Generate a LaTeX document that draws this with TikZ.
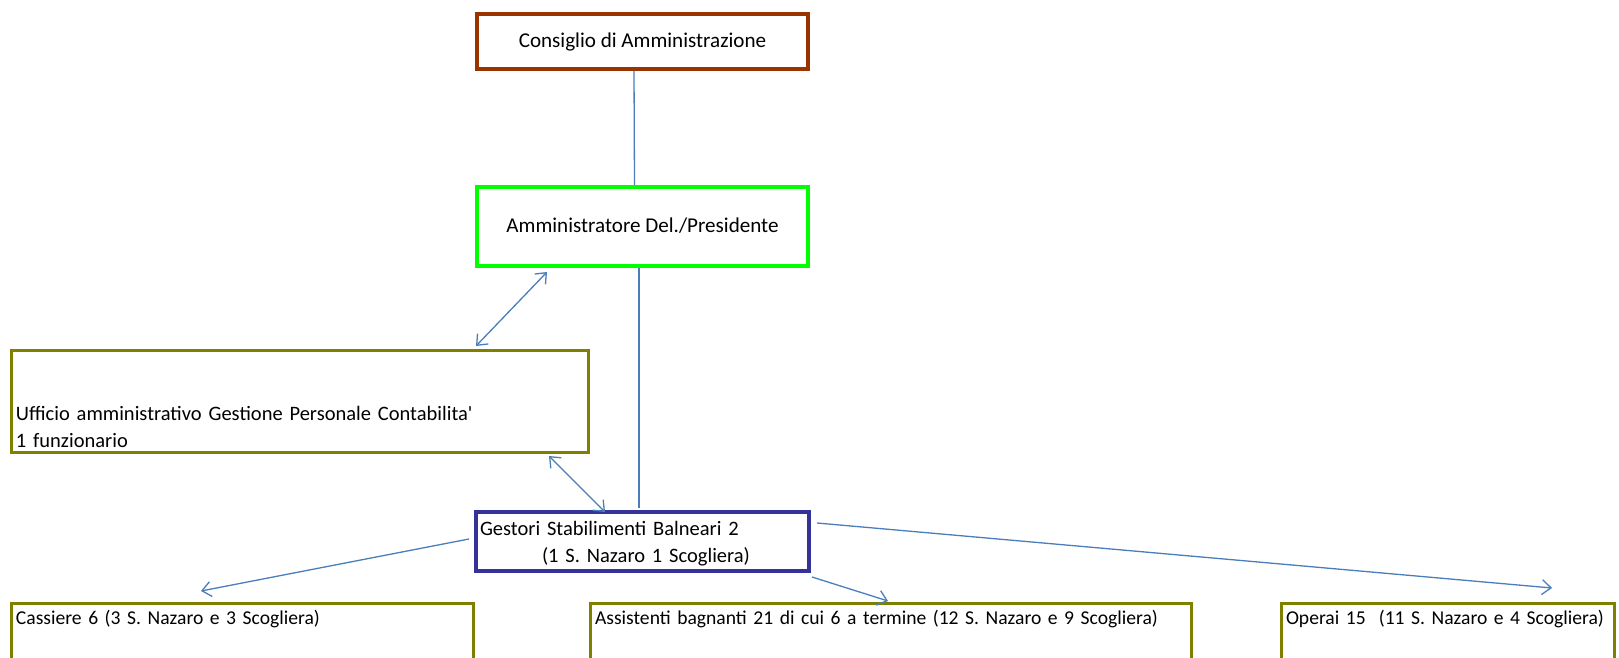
\documentclass[tikz,border=0pt]{standalone}
\usepackage{fontspec}
\setmainfont{Carlito}
\usetikzlibrary{arrows.meta}
\definecolor{cdabrown}{HTML}{993300}
\definecolor{ammgreen}{HTML}{00FF00}
\definecolor{gestblue}{HTML}{333399}
\definecolor{boxolive}{HTML}{808000}
\definecolor{linkblue}{HTML}{4A7EBB}
\begin{document}
\begin{tikzpicture}[x=1pt,y=1pt,>={Straight Barb[length=9pt,width=15pt]},
    box/.style={draw,rectangle,inner sep=0pt,text height=16pt,text depth=3pt,font=\fontsize{21.1}{27.5}\selectfont},
    leftbox/.style={box,align=left,inner xsep=4.5pt,inner ysep=0pt,font=\fontsize{20.5}{27.5}\selectfont},
    lowbox/.style={leftbox,draw=boxolive,line width=3pt,text height=21pt,text depth=59pt,font=\fontsize{19.6}{27.5}\selectfont},
    link/.style={draw=linkblue,line width=1.3pt}]
  \useasboundingbox (0,0) rectangle (1619,657);

  \node[box,draw=cdabrown,line width=4pt,minimum width=331pt,minimum height=55pt] (cda)
    at (642.5,615.5) {Consiglio di Amministrazione};
  \node[box,draw=ammgreen,line width=4pt,minimum width=331pt,minimum height=79pt] (amm)
    at (642.5,430.5) {Amministratore Del./Presidente};
  \node[leftbox,draw=boxolive,line width=3pt,text width=568pt,text height=69.5pt,text depth=32.5pt] (uff)
    at (300,255.5) {Ufficio amministrativo Gestione Personale Contabilita\textquotesingle\\1 funzionario};
  \node[leftbox,draw=gestblue,line width=4pt,inner xsep=4pt,text width=325pt,text height=23pt,text depth=36pt] (gest)
    at (642.5,115.5) {Gestori Stabilimenti Balneari 2\\\hspace*{62pt}(1 S. Nazaro 1 Scogliera)};

  \node[lowbox,text width=453pt] (cass) at (242.5,13.5) {Cassiere 6 (3 S. Nazaro e 3 Scogliera)};
  \node[lowbox,text width=592pt] (ass) at (891,13.5) {Assistenti bagnanti 21 di cui 6 a termine (12 S. Nazaro e 9 Scogliera)};
  \node[lowbox,text width=324pt] (oper) at (1448,13.5) {Operai 15~~(11 S. Nazaro e 4 Scogliera)};

  \draw[link] ([xshift=-8.5pt]cda.south) -- ([xshift=-8pt]amm.north);
  \draw[link] ([xshift=-3.5pt]amm.south) -- ([xshift=-3.5pt,yshift=2pt]gest.north);
  \draw[link,<->] ([xshift=-95.5pt,yshift=-4pt]amm.south) -- ([xshift=176pt,yshift=3pt]uff.north);
  \draw[link,<->] ([xshift=249pt,yshift=-2pt]uff.south) -- ([xshift=-37.5pt,yshift=-2pt]gest.north);
  \draw[link,->] ([xshift=-5pt,yshift=2.5pt]gest.west) -- ([xshift=-41.5pt,yshift=11pt]cass.north);
  \draw[link,->] ([xshift=1pt,yshift=-4pt]gest.south east) -- ([xshift=-3pt,yshift=1pt]ass.north);
  \draw[link,->] ([xshift=6pt,yshift=-13pt]gest.north east) -- ([xshift=104pt,yshift=14pt]oper.north);
\end{tikzpicture}
\end{document}
